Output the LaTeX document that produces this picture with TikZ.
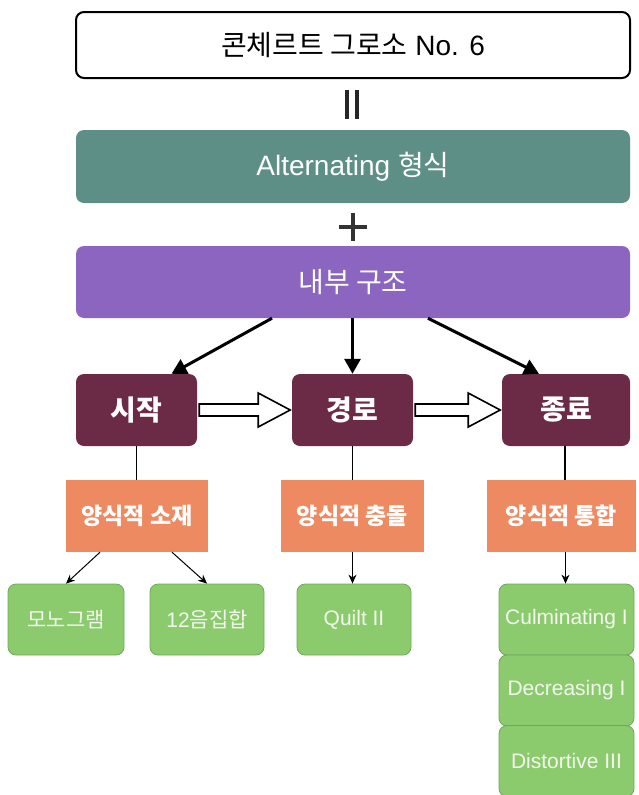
\documentclass[tikz,border=0pt]{standalone}
\usepackage{fontspec}
\setmainfont{Liberation Sans}
\newfontfamily\kr{Noto Sans CJK KR}
\usetikzlibrary{arrows.meta,calc}
\definecolor{tealc}{HTML}{5E8F86}
\definecolor{purplec}{HTML}{8C65C1}
\definecolor{maroonc}{HTML}{6B2A45}
\definecolor{orangec}{HTML}{EE8A62}
\definecolor{greenc}{HTML}{8BCB6E}
\definecolor{greenb}{HTML}{6FA85A}
\definecolor{txtw}{HTML}{F4F7EE}
\tikzset{
  wide/.style={rounded corners=8pt, minimum width=554pt, inner sep=0pt, text=white, font=\fontsize{28}{32}\selectfont},
  topbox/.style={wide, draw=black, line width=2pt, fill=white, text=black, minimum height=66pt},
  tealbox/.style={wide, fill=tealc, minimum height=73pt},
  purplebox/.style={wide, fill=purplec, minimum height=72pt},
  stagebox/.style={rounded corners=8pt, fill=maroonc, text=white, minimum height=72pt, inner sep=0pt, font=\fontsize{28}{32}\selectfont\kr\bfseries},
  stylebox/.style={fill=orangec, text=white, minimum height=72pt, inner sep=0pt, font=\fontsize{23}{27}\selectfont\kr\bfseries},
  leafbox/.style={rounded corners=8pt, fill=greenc, draw=greenb, line width=0.8pt, text=txtw, minimum height=71pt, inner sep=0pt, font=\fontsize{21}{25}\selectfont},
  bigarrow/.style={line width=3pt, -{Triangle[length=15pt,width=16pt]}},
  thinarrow/.style={line width=1pt, -{Stealth[length=9pt,width=8pt]}},
  plainline/.style={line width=1.2pt},
  hollow/.style={draw=black, line width=1.6pt, fill=white, line join=miter},
}
\begin{document}
\begin{tikzpicture}[x=1pt,y=-1pt]
\useasboundingbox (0,0) rectangle (638,795);
% top row
\node[topbox] (top) at (353,45) {{\kr 콘체르트 그로소} No. 6};
\node[tealbox] (alt) at (353,166.5) {Alternating {\kr 형식}};
\node[purplebox] (inner) at (353,282) {\kr 내부 구조};
% equals and plus signs
\draw[line width=3.2pt, black!85] (347,90) -- (347,119) (357,90) -- (357,119);
\draw[line width=4.5pt, black!80] (339,227) -- (367,227) (353,213) -- (353,241);
% stages
\node[stagebox, minimum width=121pt] (start) at (136.5,410) {시작};
\node[stagebox, minimum width=121pt] (path) at (352.5,410) {경로};
\node[stagebox, minimum width=128pt] (end) at (566,410) {종료};
% arrows from inner structure
\draw[bigarrow] ([xshift=-81pt]inner.south) -- ([xshift=35pt]start.north);
\draw[bigarrow] (path.north |- inner.south) -- (path.north);
\draw[bigarrow] ([xshift=75pt]inner.south) -- ([xshift=-27pt]end.north);
% hollow block arrows
\draw[hollow] ($(start.east)+(2,-6)$) -- ++(59,0) -- ++(0,-11) -- ++(32,17) -- ++(-32,17) -- ++(0,-11) -- ++(-59,0) -- cycle;
\draw[hollow] ($(path.east)+(2,-6)$) -- ++(53,0) -- ++(0,-11) -- ++(32,17) -- ++(-32,17) -- ++(0,-11) -- ++(-53,0) -- cycle;
% style boxes
\node[stylebox, minimum width=142pt] (s1) at (137,516) {양식적 소재};
\node[stylebox, minimum width=143pt] (s2) at (352.5,516) {양식적 충돌};
\node[stylebox, minimum width=149pt] (s3) at (561.5,516) {양식적 통합};
\draw[plainline] (start.south) -- (start.south |- s1.north);
\draw[plainline] (path.south) -- (path.south |- s2.north);
\draw[plainline] ([xshift=-1pt]end.south) -- ([xshift=-1pt]end.south |- s3.north);
% leaves
\node[leafbox, minimum width=116pt] (l1) at (66,619.5) {\kr 모노그램};
\node[leafbox, minimum width=114pt] (l2) at (207,619.5) {12{\kr 음집합}};
\node[leafbox, minimum width=114pt] (l3) at (354,619.5) {Quilt II};
\node[leafbox, minimum width=135pt] (l4) at (566.5,619.5) {Culminating I};
\node[leafbox, minimum width=135pt] (l5) at (566.5,690.5) {Decreasing I};
\node[leafbox, minimum width=135pt] (l6) at (566.5,761) {Distortive III};
\draw[thinarrow] ([xshift=-37pt]s1.south) -- (l1.north);
\draw[thinarrow] ([xshift=35pt]s1.south) -- (l2.north);
\draw[thinarrow] (s2.south) -- (s2.south |- l3.north);
\draw[thinarrow] ([xshift=4pt]s3.south) -- ([xshift=4pt]s3.south |- l4.north);
\end{tikzpicture}
\end{document}
